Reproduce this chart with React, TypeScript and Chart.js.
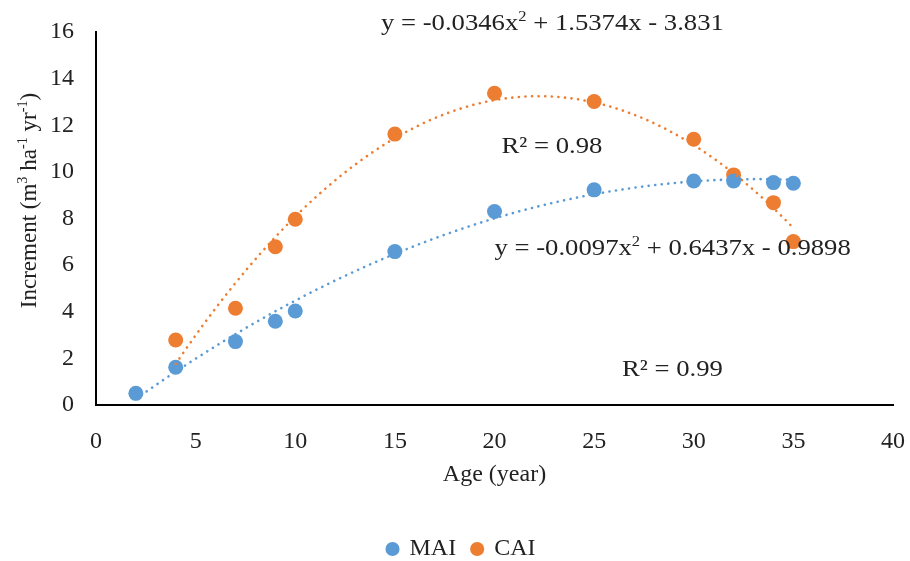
import React, { useEffect, useRef } from "react";
import { Chart, registerables } from "chart.js";

Chart.register(...registerables);

// ---- data ----
const seriesNames = ["MAI", "CAI"];
const ageMAI = [2, 4, 7, 9, 10, 15, 20, 25, 30, 32, 34, 35];
const valMAI = [0.5, 1.62, 2.72, 3.59, 4.03, 6.58, 8.3, 9.23, 9.61, 9.61, 9.54, 9.51];
const ageCAI = [4, 7, 9, 10, 15, 20, 25, 30, 32, 34, 35];
const valCAI = [2.79, 4.15, 6.79, 7.97, 11.62, 13.37, 13.02, 11.4, 9.87, 8.68, 7.01];
// polynomial trendline coefficients shown on the chart (a x^2 + b x + c)
const coefMAI = [-0.0097, 0.6437, -0.9898];
const coefCAI = [-0.0346, 1.5374, -3.831];
const r2MAI = "0.99";
const r2CAI = "0.98";
const xAxisRange = [0, 40, 5];
const yAxisRange = [0, 16, 2];
const xTitle = "Age (year)";

const BLUE = "#5B9BD5";
const ORANGE = "#ED7D31";
const TEXT = "#222222";
const FONT = "'Liberation Serif', 'Times New Roman', serif";

type Seg = { t: string; sup?: boolean };

function trendPoints(ages: number[], coef: number[]) {
  const lo = Math.min(...ages);
  const hi = Math.max(...ages);
  const pts: { x: number; y: number }[] = [];
  const n = 120;
  for (let i = 0; i <= n; i++) {
    const x = lo + ((hi - lo) * i) / n;
    pts.push({ x, y: coef[0] * x * x + coef[1] * x + coef[2] });
  }
  return pts;
}

function eqSegs(coef: number[]): Seg[] {
  const f = (v: number) => String(Math.abs(v));
  return [
    { t: `y = ${coef[0] < 0 ? "-" : ""}${f(coef[0])}x` },
    { t: "2", sup: true },
    { t: ` ${coef[1] < 0 ? "-" : "+"} ${f(coef[1])}x ${coef[2] < 0 ? "-" : "+"} ${f(coef[2])}` },
  ];
}

function richWidth(ctx: CanvasRenderingContext2D, segs: Seg[], size: number) {
  let w = 0;
  for (const s of segs) {
    ctx.font = `${s.sup ? size * 0.62 : size}px ${FONT}`;
    w += ctx.measureText(s.t).width;
  }
  return w;
}

function drawRich(ctx: CanvasRenderingContext2D, segs: Seg[], x: number, baseline: number, size: number) {
  let cx = x;
  ctx.fillStyle = TEXT;
  ctx.textAlign = "left";
  ctx.textBaseline = "alphabetic";
  for (const s of segs) {
    const fs = s.sup ? size * 0.62 : size;
    ctx.font = `${fs}px ${FONT}`;
    ctx.fillText(s.t, cx, baseline + (s.sup ? -size * 0.36 : 0));
    cx += ctx.measureText(s.t).width;
  }
}

// annotation anchors in data units (left edge x, vertical centre y)
const annotations: { segs: Seg[]; x: number; y: number }[] = [
  { segs: eqSegs(coefCAI), x: 14.3, y: 16.43 },
  { segs: [{ t: `R² = ${r2CAI}` }], x: 20.35, y: 11.15 },
  { segs: eqSegs(coefMAI), x: 20.0, y: 6.78 },
  { segs: [{ t: `R² = ${r2MAI}` }], x: 26.4, y: 1.59 },
];

const yTitleSegs: Seg[] = [
  { t: "Increment (m" },
  { t: "3", sup: true },
  { t: " ha" },
  { t: "-1", sup: true },
  { t: " yr" },
  { t: "-1", sup: true },
  { t: ")" },
];

const ANN_SIZE = 23;
const ANN_STRETCH = 1.16;

const textPlugin = {
  id: "textPlugin",
  afterDraw(chart: any) {
    const ctx: CanvasRenderingContext2D = chart.ctx;
    const xs = chart.scales.x;
    const ys = chart.scales.y;
    ctx.save();
    for (const a of annotations) {
      const px = xs.getPixelForValue(a.x);
      const py = ys.getPixelForValue(a.y);
      ctx.save();
      ctx.translate(px, py + ANN_SIZE * 0.33);
      ctx.scale(ANN_STRETCH, 1);
      drawRich(ctx, a.segs, 0, 0, ANN_SIZE);
      ctx.restore();
    }
    // y-axis title
    const size = 23;
    const w = richWidth(ctx, yTitleSegs, size);
    const cy = (chart.chartArea.top + chart.chartArea.bottom) / 2 - 18;
    ctx.translate(28, cy);
    ctx.rotate(-Math.PI / 2);
    drawRich(ctx, yTitleSegs, -w / 2, size * 0.33, size);
    ctx.restore();
  },
};

export default function App() {
  const ref = useRef<HTMLCanvasElement | null>(null);

  useEffect(() => {
    if (!ref.current) return;
    const pts = (ages: number[], vals: number[]) => ages.map((a, i) => ({ x: a, y: vals[i] }));
    const trendStyle = (color: string) => ({
      showLine: true,
      pointRadius: 0,
      pointHoverRadius: 0,
      borderColor: color,
      backgroundColor: color,
      borderWidth: 2.6,
      borderDash: [0.1, 6.5],
      borderCapStyle: "round" as const,
      fill: false,
      order: 0,
    });
    const chart = new Chart(ref.current, {
      type: "scatter",
      data: {
        datasets: [
          {
            label: seriesNames[0],
            data: pts(ageMAI, valMAI),
            backgroundColor: BLUE,
            borderColor: BLUE,
            borderWidth: 0,
            pointRadius: 7.5,
            order: 1,
          },
          {
            label: seriesNames[1],
            data: pts(ageCAI, valCAI),
            backgroundColor: ORANGE,
            borderColor: ORANGE,
            borderWidth: 0,
            pointRadius: 7.5,
            order: 1,
          },
          { label: "MAI trend", data: trendPoints(ageMAI, coefMAI), ...trendStyle(BLUE) },
          { label: "CAI trend", data: trendPoints(ageCAI, coefCAI), ...trendStyle(ORANGE) },
        ],
      },
      options: {
        animation: false,
        responsive: true,
        maintainAspectRatio: false,
        layout: { padding: { left: 30, right: 17, top: 32, bottom: -10 } },
        plugins: {
          tooltip: { enabled: false },
          legend: {
            position: "bottom",
            labels: {
              filter: (item: any) => item.datasetIndex < 2,
              usePointStyle: true,
              pointStyle: "circle",
              boxWidth: 10,
              boxHeight: 10,
              padding: 16,
              color: TEXT,
              font: { family: FONT, size: 24 },
            },
          },
        },
        scales: {
          x: {
            type: "linear",
            min: xAxisRange[0],
            max: xAxisRange[1],
            ticks: { stepSize: xAxisRange[2], padding: 22, color: TEXT, font: { family: FONT, size: 24 } },
            grid: { display: false, drawTicks: false },
            border: { display: true, color: "#000", width: 2 },
            title: {
              display: true,
              text: xTitle,
              color: TEXT,
              font: { family: FONT, size: 24 },
              padding: { top: 0, bottom: 32 },
            },
            afterFit: (s: any) => {
              s.height = 116;
              s.paddingLeft = 0;
              s.paddingRight = 0;
            },
          },
          y: {
            type: "linear",
            min: yAxisRange[0],
            max: yAxisRange[1],
            ticks: { stepSize: yAxisRange[2], padding: 22, color: TEXT, font: { family: FONT, size: 24 } },
            grid: { display: false, drawTicks: false },
            border: { display: true, color: "#000", width: 2 },
            afterFit: (s: any) => {
              s.width = 66;
              s.paddingTop = 0;
              s.paddingBottom = 0;
            },
          },
        },
      },
      plugins: [textPlugin],
    });
    return () => chart.destroy();
  }, []);

  return (
    <div style={{ position: "fixed", left: 0, top: 0, width: 910, height: 561, background: "#fff" }}>
      <canvas ref={ref} />
    </div>
  );
}
